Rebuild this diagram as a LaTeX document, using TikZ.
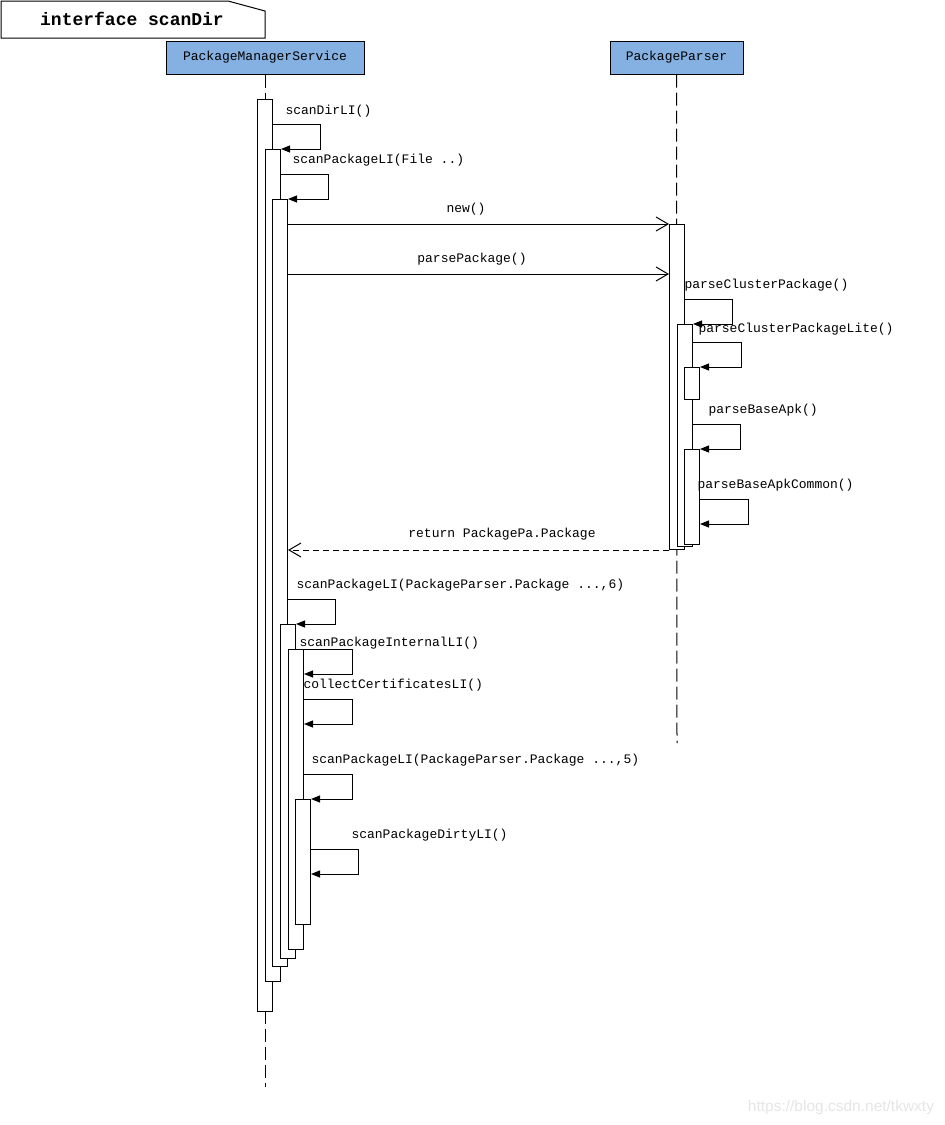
\documentclass[tikz,border=0pt]{standalone}
\usepackage{fontspec}
\setmainfont{Liberation Mono}
\newfontfamily\wmfont{Liberation Sans}
\usetikzlibrary{arrows.meta,positioning}
\definecolor{boxblue}{RGB}{132,177,225}

\begin{document}
\begin{tikzpicture}[x=1pt,y=-1pt,line width=1pt,
  every node/.style={font=\fontsize{13pt}{15pt}\selectfont,inner sep=0pt},
  obj/.style={draw,fill=boxblue,minimum height=33pt},
  lifeline/.style={dash pattern=on 13pt off 5pt},
  actbar/.style={draw,fill=white,minimum width=15pt,anchor=north west},
  msg/.style={anchor=base west},
  self/.style={-{Triangle[length=9pt,width=7pt]}},
  call/.style={-{Straight Barb[length=12pt,width=14pt]}},
  ret/.style={call,dash pattern=on 6pt off 4pt}]

\useasboundingbox (0,0) rectangle (945,1125);

% frame
\draw (1,1) -- (228,1) -- (265,11) -- (265,38) -- (1,38) -- cycle;
\node [font=\fontsize{18pt}{20pt}\selectfont\bfseries] (title) at (132,19) {interface scanDir};

% objects and lifelines
\node [obj,minimum width=198pt] (pms) at (265,57.5) {PackageManagerService};
\node [obj,minimum width=133pt] (pp) at (676.5,57.5) {PackageParser};
\coordinate (pmsend) at (265,1087);
\coordinate (ppend) at (677,743);
\draw [lifeline] (pms.south) -- (pmsend);
\draw [lifeline] (pp.south) -- (ppend);

% activation bars
\node [actbar,minimum height=912pt] (b1) at (257,99) {};
\node [actbar,minimum height=832pt] (b2) at (265,149) {};
\node [actbar,minimum height=767pt] (b3) at (272,199) {};
\node [actbar,minimum height=334pt] (b4) at (280,624) {};
\node [actbar,minimum height=300pt] (b5) at (288,649) {};
\node [actbar,minimum height=125pt] (b6) at (295,799) {};
%
\node [actbar,minimum height=325pt] (pa) at (669,224) {};
\node [actbar,minimum height=222pt] (pb) at (677,324) {};
\node [actbar,minimum height=32pt] (pc) at (684,367) {};
\node [actbar,minimum height=95pt] (pd) at (684,449) {};

% messages
\draw [self] ([yshift=-25pt]b1.north east) -- ++(47,0) |- (b2.north east);
\node [msg] (l1) at (285,114) {scanDirLI()};
\draw [self] ([yshift=-25pt]b2.north east) -- ++(47,0) |- (b3.north east);
\node [msg] (l2) at (292,163) {scanPackageLI(File ..)};
%
\draw [call] (b3.east |- pa.north west) -- (pa.north west);
\node [anchor=base] (l3) at (466,212) {new()};
\draw [call] ([yshift=-50pt]b3.east |- pa.north west) -- ([yshift=-50pt]pa.north west);
\node [anchor=base] (l4) at (472,262) {parsePackage()};
%
\draw [self] ([yshift=-75pt]pa.north east) -- ++(47,0) |- (pb.north east);
\node [msg] (l5) at (684,288) {parseClusterPackage()};
\draw [self] ([yshift=-18pt]pb.north east) -- ++(48,0) |- (pc.north east);
\node [msg] (l6) at (698,332) {parseClusterPackageLite()};
\draw [self] ([yshift=-100pt]pb.north east) -- ++(47,0) |- (pd.north east);
\node [msg] (l7) at (708,413) {parseBaseApk()};
\draw [self] ([yshift=-50pt]pd.north east) -- ++(48,0) |- ([yshift=-75pt]pd.north east);
\node [msg] (l8) at (697,488) {parseBaseApkCommon()};
%
\draw [ret] (pa.south west) -- (b3.east |- pa.south west);
\node [anchor=base] (l9) at (502,537) {return PackagePa.Package};
%
\draw [self] ([yshift=-400pt]b3.north east) -- ++(47,0) |- (b4.north east);
\node [msg] (l10) at (296,588) {scanPackageLI(PackageParser.Package ...,6)};
\draw [self] (b5.north east) -- ++(48,0) |- ([yshift=-25pt]b5.north east);
\node [msg] (l11) at (299,646) {scanPackageInternalLI()};
\draw [self] ([yshift=-50pt]b5.north east) -- ++(48,0) |- ([yshift=-75pt]b5.north east);
\node [msg] (l12) at (303,688) {collectCertificatesLI()};
\draw [self] ([yshift=-125pt]b5.north east) -- ++(48,0) |- (b6.north east);
\node [msg] (l13) at (311,763) {scanPackageLI(PackageParser.Package ...,5)};
\draw [self] ([yshift=-50pt]b6.north east) -- ++(47,0) |- ([yshift=-75pt]b6.north east);
\node [msg] (l14) at (351,838) {scanPackageDirtyLI()};

% watermark
\node [font=\wmfont\fontsize{15.5pt}{17pt}\selectfont,text=gray!20] (wm) at (841,1107) {https://blog.csdn.net/tkwxty};

\end{tikzpicture}
\end{document}
